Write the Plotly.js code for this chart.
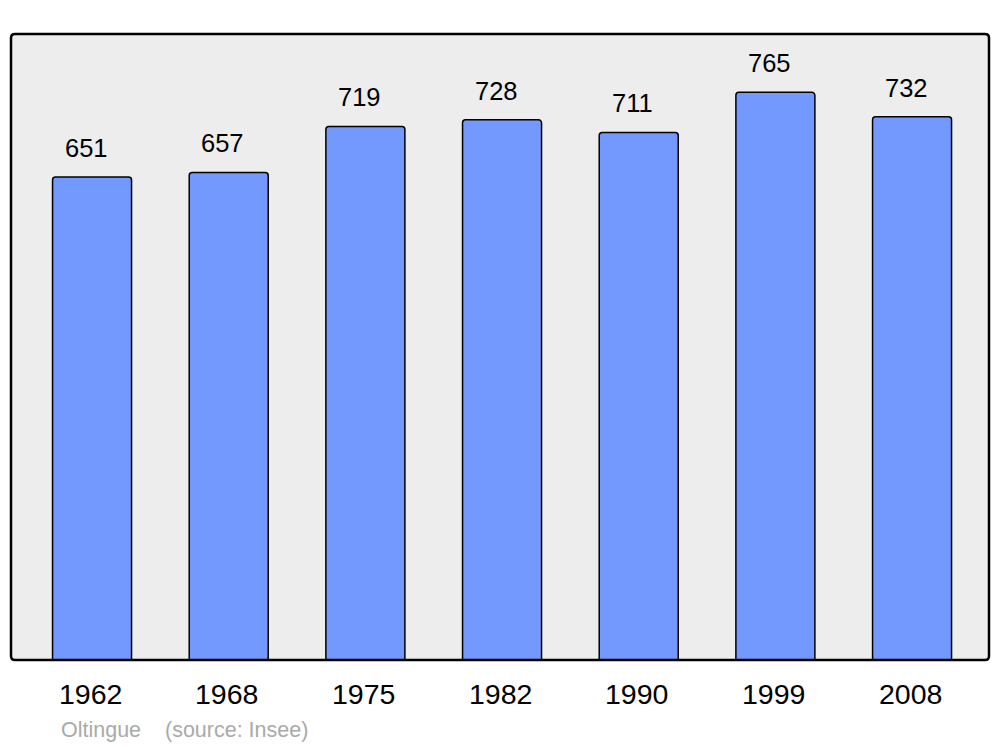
<!DOCTYPE html>
<html>
<head>
<meta charset="utf-8">
<script src="https://cdn.plot.ly/plotly-3.0.1.min.js"></script>
<style>html,body{margin:0;padding:0;background:#fff;}#chart{width:1000px;height:747px;}</style>
</head>
<body>
<div id="chart"></div>
<script>
var years = ["1962", "1968", "1975", "1982", "1990", "1999", "2008"];
var population = [651, 657, 719, 728, 711, 765, 732];
var sourceText = "Oltingue    (source: Insee)";

var W = 1000, H = 747;
var m = {l: 11, r: 11, t: 34, b: 87};
var pw = W - m.l - m.r, ph = H - m.t - m.b;
var rx = 4 / pw, ry = 4 / ph;
var framePath = "M " + rx + " 0 L " + (1 - rx) + " 0 Q 1 0 1 " + ry +
  " L 1 " + (1 - ry) + " Q 1 1 " + (1 - rx) + " 1 L " + rx + " 1 Q 0 1 0 " + (1 - ry) +
  " L 0 " + ry + " Q 0 0 " + rx + " 0 Z";

var annotations = [];
years.forEach(function (y, i) {
  annotations.push({
    x: i, y: population[i], xref: "x", yref: "y", text: String(population[i]),
    showarrow: false, yanchor: "bottom", xanchor: "center", xshift: -6, yshift: 13,
    font: {family: "Liberation Sans, Arial, sans-serif", size: 25.5, color: "#000"}
  });
  annotations.push({
    x: i, y: 0, xref: "x", yref: "y", text: y,
    showarrow: false, yanchor: "top", xanchor: "center", xshift: -2, yshift: -16,
    font: {family: "Liberation Sans, Arial, sans-serif", size: 28.5, color: "#000"}
  });
});
annotations.push({
  x: (59 - m.l) / pw, y: -(730 - 660) / ph, xref: "paper", yref: "paper",
  text: sourceText.replace(/ /g, "&nbsp;"), showarrow: false, xanchor: "left", yanchor: "middle",
  font: {family: "Liberation Sans, Arial, sans-serif", size: 21.5, color: "#aaaaaa"}
});

var trace = {
  type: "bar", x: years.map(function (_, i) { return i; }), y: population,
  width: 0.578,
  marker: {color: "#7399ff", line: {color: "#000", width: 1.5}, cornerradius: 3},
  hoverinfo: "none"
};

var layout = {
  width: W, height: H, margin: m,
  paper_bgcolor: "#ffffff", plot_bgcolor: "#ededed",
  showlegend: false,
  xaxis: {range: [-0.593, 6.563], showgrid: false, zeroline: false, showticklabels: false, ticks: "", fixedrange: true},
  yaxis: {range: [0, 843.6], showgrid: false, zeroline: false, showticklabels: false, ticks: "", fixedrange: true},
  shapes: [{type: "path", xref: "paper", yref: "paper", path: framePath, line: {color: "#000", width: 2.5}, layer: "above"}],
  annotations: annotations
};

Plotly.newPlot("chart", [trace], layout, {displayModeBar: false, staticPlot: true});
</script>
</body>
</html>
